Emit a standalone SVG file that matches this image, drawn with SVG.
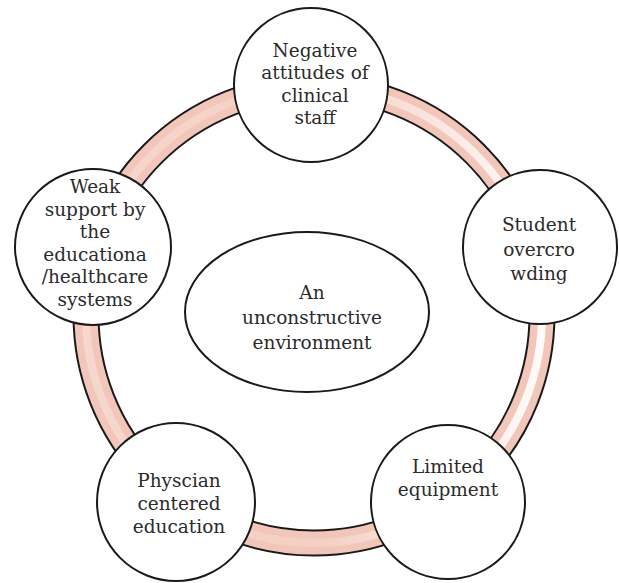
<svg xmlns="http://www.w3.org/2000/svg" width="619" height="583" viewBox="0 0 619 583">
  <defs>
    <linearGradient id="shine" gradientUnits="userSpaceOnUse" x1="80" y1="0" x2="560" y2="0">
      <stop offset="0" stop-color="#ffffff" stop-opacity="0.3"/>
      <stop offset="0.5" stop-color="#ffffff" stop-opacity="0.15"/>
      <stop offset="1" stop-color="#ffffff" stop-opacity="1"/>
    </linearGradient>
    <style>
      .node { fill: #ffffff; stroke: #1a1a1a; stroke-width: 2; }
      .label { font-family: "DejaVu Serif", "Liberation Serif", serif; font-size: 18.5px; fill: #2b2b2b; text-anchor: middle; }
      .band { fill: none; stroke: #f2c7b9; stroke-width: 25; }
      .shine { fill: none; stroke: url(#shine); stroke-width: 8; }
      .edge { fill: none; stroke: #1a1a1a; stroke-width: 2; }
    </style>
  </defs>
  <rect width="619" height="583" fill="#ffffff"/>

  <!-- ring linking the five factors -->
  <g id="connectors">
    <circle class="band" cx="314" cy="315" r="228"/>
    <circle class="shine" cx="314" cy="315" r="228"/>
    <circle class="edge" cx="314" cy="315" r="240.5"/>
    <circle class="edge" cx="314" cy="315" r="215.5"/>
  </g>

  <g id="center">
    <ellipse class="node" cx="307" cy="312" rx="122" ry="80"/>
    <text class="label" x="312" y="299">An</text>
    <text class="label" x="312" y="324">unconstructive</text>
    <text class="label" x="312" y="349">environment</text>
  </g>

  <g id="negative-attitudes">
    <circle class="node" cx="311" cy="85" r="77"/>
    <text class="label" x="315" y="57">Negative</text>
    <text class="label" x="315" y="79">attitudes of</text>
    <text class="label" x="315" y="102">clinical</text>
    <text class="label" x="315" y="124">staff</text>
  </g>

  <g id="student-overcrowding">
    <circle class="node" cx="540" cy="247" r="77"/>
    <text class="label" x="539" y="231">Student</text>
    <text class="label" x="539" y="256">overcro</text>
    <text class="label" x="539" y="280">wding</text>
  </g>

  <g id="limited-equipment">
    <circle class="node" cx="448" cy="502" r="77"/>
    <text class="label" x="448" y="473">Limited</text>
    <text class="label" x="448" y="496">equipment</text>
  </g>

  <g id="physician-centered">
    <circle class="node" cx="176" cy="502" r="79"/>
    <text class="label" x="179" y="487">Physcian</text>
    <text class="label" x="179" y="510">centered</text>
    <text class="label" x="179" y="533">education</text>
  </g>

  <g id="weak-support">
    <circle class="node" cx="93" cy="247" r="78"/>
    <text class="label" x="95" y="193">Weak</text>
    <text class="label" x="95" y="216">support by</text>
    <text class="label" x="95" y="238">the</text>
    <text class="label" x="95" y="261">educationa</text>
    <text class="label" x="95" y="283">/healthcare</text>
    <text class="label" x="95" y="306">systems</text>
  </g>
</svg>
